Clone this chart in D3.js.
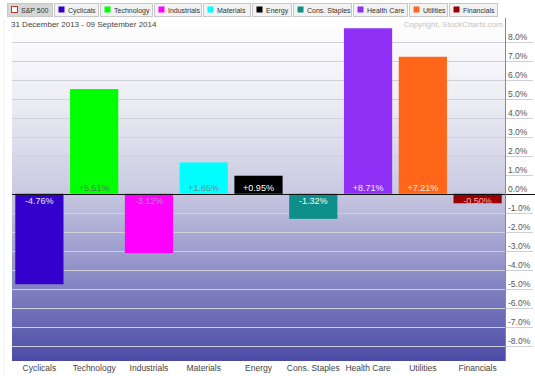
<!DOCTYPE html>
<html>
<head>
<meta charset="utf-8">
<script src="https://cdn.jsdelivr.net/npm/d3@7"></script>
<style>
  body { margin: 0; background: #fff; }
  text { font-family: "Liberation Sans", Arial, sans-serif; }
</style>
</head>
<body>
<div id="chart"></div>
<script>
// Sector performance, 31 Dec 2013 - 09 Sep 2014
var categories = ['Cyclicals', 'Technology', 'Industrials', 'Materials', 'Energy',
                  'Cons. Staples', 'Health Care', 'Utilities', 'Financials'];
var values = [-4.76, 5.51, -3.12, 1.65, 0.95, -1.32, 8.71, 7.21, -0.50];
var yTicks = [8, 7, 6, 5, 4, 3, 2, 1, 0, -1, -2, -3, -4, -5, -6, -7, -8];
var legendItems = ['S&P 500'].concat(categories);

var barColors = ['#3300cc', '#00ff00', '#ff00ff', '#00ffff', '#000000',
                 '#0f8f8a', '#9030f6', '#ff6619', '#990000'];
var labelColors = ['#e8e8ff', '#5c7a5c', '#b890b8', '#6a8a8a', '#ffffff',
                   '#e8ffff', '#f0e8ff', '#ffe8d8', '#ffb0b0'];

var width = 535, height = 376;
var plot = {left: 12, right: 505, top: 18, bottom: 361};

var svg = d3.select('#chart').append('svg')
    .attr('width', width)
    .attr('height', height);

var x = d3.scaleBand()
    .domain(categories)
    .range([plot.left, plot.right])
    .paddingInner(0.12)
    .paddingOuter(0.06);

var y = d3.scaleLinear()
    .domain([-8.8, 9.25])
    .range([plot.bottom, plot.top]);

// background gradient
var grad = svg.append('defs').append('linearGradient')
    .attr('id', 'bg')
    .attr('x1', 0).attr('y1', 0).attr('x2', 0).attr('y2', 1);
[[0, '#ffffff'], [0.25, '#ececf4'], [0.5, '#cacae2'], [0.72, '#9393ca'], [1, '#4b4ba6']]
  .forEach(function(s) {
    grad.append('stop').attr('offset', s[0]).attr('stop-color', s[1]);
  });

svg.append('rect')
    .attr('x', plot.left).attr('y', plot.top)
    .attr('width', plot.right - plot.left)
    .attr('height', plot.bottom - plot.top)
    .attr('fill', 'url(#bg)');

// faint page border on the left
svg.append('line')
    .attr('x1', 4).attr('x2', 4).attr('y1', 20).attr('y2', height)
    .attr('stroke', '#eeeeee');

// gridlines, extending under the right-hand labels
svg.append('g').selectAll('line').data(yTicks.filter(function(d) { return d !== 0; }))
  .enter().append('line')
    .attr('x1', plot.left).attr('x2', 533)
    .attr('y1', function(d) { return Math.round(y(d)) + 0.5; })
    .attr('y2', function(d) { return Math.round(y(d)) + 0.5; })
    .attr('stroke', '#d0d0d8')
    .attr('stroke-width', 1);

// bars
svg.append('g').selectAll('rect').data(values).enter().append('rect')
    .attr('x', function(d, i) { return x(categories[i]); })
    .attr('y', function(d) { return y(Math.max(0, d)); })
    .attr('width', x.bandwidth())
    .attr('height', function(d) { return Math.abs(y(d) - y(0)); })
    .attr('fill', function(d, i) { return barColors[i]; });

// zero line
svg.append('line')
    .attr('x1', plot.left).attr('x2', width)
    .attr('y1', Math.round(y(0)) + 0.5).attr('y2', Math.round(y(0)) + 0.5)
    .attr('stroke', '#111').attr('stroke-width', 1);

// value labels
svg.append('g').selectAll('text').data(values).enter().append('text')
    .attr('x', function(d, i) { return x(categories[i]) + x.bandwidth() / 2; })
    .attr('y', function(d) { return d >= 0 ? y(0) - 3 : y(0) + 10; })
    .attr('text-anchor', 'middle')
    .attr('font-size', 9)
    .attr('fill', function(d, i) { return labelColors[i]; })
    .text(function(d) { return (d >= 0 ? '+' : '') + d.toFixed(2) + '%'; });

// right axis
svg.append('line')
    .attr('x1', plot.right + 0.5).attr('x2', plot.right + 0.5)
    .attr('y1', plot.top).attr('y2', plot.bottom)
    .attr('stroke', '#888');

svg.append('g').selectAll('text').data(yTicks).enter().append('text')
    .attr('x', plot.right + 3)
    .attr('y', function(d) { return y(d) - 2; })
    .attr('font-size', 8.5)
    .attr('fill', '#555')
    .text(function(d) { return d.toFixed(1) + '%'; });

// category labels
svg.append('g').selectAll('text').data(categories).enter().append('text')
    .attr('x', function(d) { return x(d) + x.bandwidth() / 2; })
    .attr('y', plot.bottom + 10)
    .attr('text-anchor', 'middle')
    .attr('font-size', 8.5)
    .attr('fill', '#444')
    .text(function(d) { return d; });

// date range and copyright
svg.append('text')
    .attr('x', 11).attr('y', 27)
    .attr('font-size', 8)
    .attr('fill', '#444')
    .text('31 December 2013 - 09 September 2014');

svg.append('text')
    .attr('x', 503).attr('y', 27)
    .attr('text-anchor', 'end')
    .attr('font-size', 8)
    .attr('fill', '#c4c4c4')
    .text('Copyright, StockCharts.com');

// legend buttons
var legendX = [7, 54, 100, 154, 203, 252, 293, 353, 409, 449];
var legendW = [46, 45, 53, 48, 48, 40, 59, 55, 39, 49];
var leg = svg.append('g').selectAll('g').data(legendItems).enter().append('g')
    .attr('transform', function(d, i) { return 'translate(' + legendX[i] + ',3)'; });

leg.append('rect')
    .attr('x', 0.5).attr('y', 0.5)
    .attr('width', function(d, i) { return legendW[i] - 1; })
    .attr('height', 13)
    .attr('fill', function(d, i) { return i === 0 ? '#d6d6d6' : '#f2f2f2'; })
    .attr('stroke', '#c8c8c8');

leg.append('rect')
    .attr('x', 4.5).attr('y', 3.5)
    .attr('width', 6).attr('height', 6)
    .attr('fill', function(d, i) { return i === 0 ? '#ffffff' : barColors[i - 1]; })
    .attr('stroke', function(d, i) { return i === 0 ? '#cc3333' : 'none'; });

leg.append('text')
    .attr('x', 14).attr('y', 10)
    .attr('font-size', 7)
    .attr('fill', '#333')
    .text(function(d) { return d; });
</script>
</body>
</html>
